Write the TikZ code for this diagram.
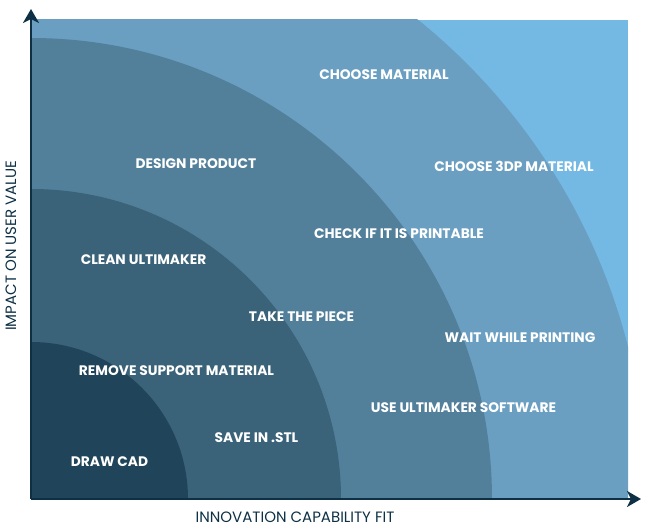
\documentclass[tikz,border=0pt]{standalone}
\usepackage{fontspec}
\setmainfont{Poppins}
\usetikzlibrary{arrows.meta}
\definecolor{cA}{HTML}{20455A}
\definecolor{cB}{HTML}{3A6279}
\definecolor{cC}{HTML}{52809B}
\definecolor{cD}{HTML}{6A9FC2}
\definecolor{cE}{HTML}{74B9E4}
\definecolor{axis}{HTML}{0E3045}
\tikzset{
  lbl/.style={text=white, font=\fontsize{13.8}{15}\selectfont\bfseries, inner sep=0pt, anchor=center},
  axlbl/.style={text=axis, font=\fontsize{15}{17}\selectfont, inner sep=0pt, anchor=center},
  axisline/.style={draw=axis, line width=2.6pt, -{Stealth[length=14pt,width=16pt,inset=4pt]}}
}
\begin{document}
\begin{tikzpicture}[x=1pt,y=-1pt]
\useasboundingbox (0,0) rectangle (649,532);
\coordinate (O) at (31,499);
\coordinate (Ytop) at (31,9);
\coordinate (Xend) at (641,499);
\begin{scope}
\clip (31,20) rectangle (628,499);
\fill[cE] (31,20) rectangle (628,499);
\fill[cD] (O) circle [radius=616pt];
\fill[cC] (O) circle [radius=461pt];
\fill[cB] (O) circle [radius=310pt];
\fill[cA] (O) circle [radius=157pt];
\end{scope}
\draw[axisline] (O) -- (Ytop);
\draw[axisline] (O) -- (Xend);
\node[lbl] (n1) at (384,75) {CHOOSE MATERIAL};
\node[lbl] (n2) at (196,164) {DESIGN PRODUCT};
\node[lbl] (n3) at (514,166) {CHOOSE 3DP MATERIAL};
\node[lbl] (n4) at (399,234) {CHECK IF IT IS PRINTABLE};
\node[lbl] (n5) at (143.5,260) {CLEAN ULTIMAKER};
\node[lbl] (n6) at (301.5,317) {TAKE THE PIECE};
\node[lbl] (n7) at (520,338) {WAIT WHILE PRINTING};
\node[lbl] (n8) at (176.5,371) {REMOVE SUPPORT MATERIAL};
\node[lbl] (n9) at (463.5,408) {USE ULTIMAKER SOFTWARE};
\node[lbl] (n10) at (256.5,438) {SAVE IN .STL};
\node[lbl] (n11) at (109.5,462) {DRAW CAD};
\node[axlbl] (xl) at (295,517) {INNOVATION CAPABILITY FIT};
\node[axlbl, rotate=90] (yl) at (11,246) {IMPACT ON USER VALUE};
\end{tikzpicture}
\end{document}
